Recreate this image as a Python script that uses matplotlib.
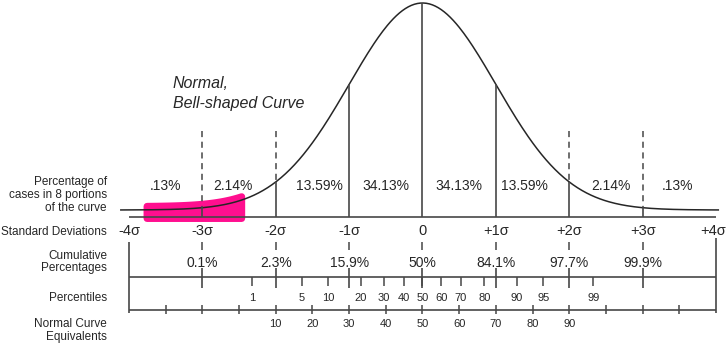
import numpy as np
import matplotlib.pyplot as plt
from statistics import NormalDist

plt.rcParams['font.family'] = ['Liberation Sans', 'DejaVu Sans']

# data
sigma_labels = ['-4σ', '-3σ', '-2σ', '-1σ', '0', '+1σ', '+2σ', '+3σ', '+4σ']
sigma_z = [-4, -3, -2, -1, 0, 1, 2, 3, 4]
portion_pct = ['.13%', '2.14%', '13.59%', '34.13%', '34.13%', '13.59%', '2.14%', '.13%']
cum_z = [-3, -2, -1, 0, 1, 2, 3]
cum_labels = ['0.1%', '2.3%', '15.9%', '50%', '84.1%', '97.7%', '99.9%']
percentiles = [1, 5, 10, 20, 30, 40, 50, 60, 70, 80, 90, 95, 99]
nce_labels = [10, 20, 30, 40, 50, 60, 70, 80, 90]
nce_ticks_z = np.arange(-3.5, 3.51, 0.5)

# layout (pixel rows, sigma columns)
portion_x = [-3.5, -2.58, -1.41, -0.5, 0.5, 1.39, 2.57, 3.48]
x0, px_per_sigma = 422.5, 73.4
base_y, tail_y, peak_h = 217, 210, 207
dash_top = 131
pct_line, nce_line = 277, 310
ink = '#262626'
line_c = '#474747'

fig = plt.figure(figsize=(7.28, 3.51), dpi=100)
ax = fig.add_axes([0, 0, 1, 1])
ax.set_xlim(-x0 / px_per_sigma, (728 - x0) / px_per_sigma)
ax.set_ylim(351, 0)
ax.axis('off')


def curve(z):
    return tail_y - peak_h * np.exp(-np.asarray(z) ** 2 / 2)


def px(x):
    return (x - x0) / px_per_sigma


# bell curve
zc = np.linspace(-4.11, 4.03, 400)
ax.plot(zc, curve(zc), color=ink, lw=1.1)
ax.hlines(base_y, -4, 4, color=line_c, lw=1.2)

# verticals under the curve
for z in [-3, -2, -1, 0, 1, 2, 3]:
    ax.vlines(z, curve(z), base_y, color=line_c, lw=1.2)
for z in [-3, -2, 2, 3]:
    ax.plot([z, z], [dash_top, curve(z)], color=line_c, lw=1.1, dashes=(4, 3))

# percentage in each portion
for x, t in zip(portion_x, portion_pct):
    ax.text(x, 190, t, ha='center', va='baseline', fontsize=10, color=ink)

ax.text(px(173), 88, 'Normal,', style='italic', fontsize=11.5, color=ink, va='baseline')
ax.text(px(173), 108, 'Bell-shaped Curve', style='italic', fontsize=11.5, color=ink,
        va='baseline')

# left captions
for y, t in [(185, 'Percentage of'), (198, 'cases in 8 portions'), (211, 'of the curve'),
             (235, 'Standard Deviations'), (259, 'Cumulative'), (271, 'Percentages'),
             (301, 'Percentiles'), (327, 'Normal Curve'), (340, 'Equivalents')]:
    ax.text(px(107), y, t, ha='right', va='baseline', fontsize=8.5, color=ink)

# sigma labels
for z, t in zip(sigma_z, sigma_labels):
    xx = z - 0.04 if z == 4 else z
    ax.text(xx, 235, t, ha='center', va='baseline', fontsize=10.5, color=ink)

# cumulative percentages
ax.vlines(cum_z, 242, 250, color=line_c, lw=1.1)
for z, t in zip(cum_z, cum_labels):
    ax.text(z, 267, t, ha='center', va='baseline', fontsize=10, color=ink)

# percentile scale
ax.hlines(pct_line, -4, 4, color=line_c, lw=1.2)
ax.vlines(cum_z, 268, 288, color=line_c, lw=1.2)
pz = [NormalDist().inv_cdf(p / 100) for p in percentiles]
ax.vlines(pz, pct_line, 286, color=line_c, lw=1.1)
for z, p in zip(pz, percentiles):
    ax.text(z, 301, str(p), ha='center', va='baseline', fontsize=8, color=ink)

# normal curve equivalents
ax.hlines(nce_line, -4, 4, color=line_c, lw=1.2)
ax.vlines(nce_ticks_z, 305, 314, color=line_c, lw=1.1)
for n in nce_labels:
    ax.text((n - 50) / 20, 327, str(n), ha='center', va='baseline', fontsize=8, color=ink)

ax.vlines(-4, 242, 313, color=line_c, lw=1.2)
ax.vlines(4, 238, 313, color=line_c, lw=1.2)

# pink marker scribble over the left tail
zp = np.linspace(-3.76, -2.47, 100)
top = np.minimum(curve(zp) - 4, 207)
ax.fill_between(zp, top, base_y + 1, color='#ff0f8f', lw=5,
                edgecolor='#ff0f8f', joinstyle='round', capstyle='round')

fig.savefig('out.png', dpi=100)
